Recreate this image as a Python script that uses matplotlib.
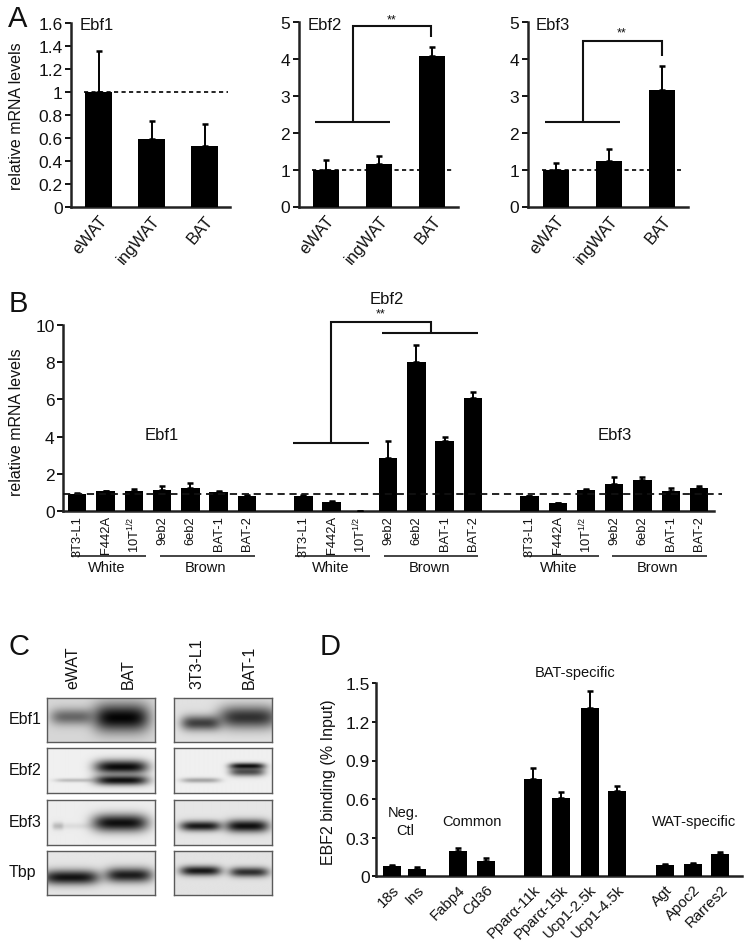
import numpy as np
import matplotlib
matplotlib.use("Agg")
import matplotlib.pyplot as plt
from matplotlib import font_manager as fm

W, H = 751, 945
SANS = 'Liberation Sans'
avail = {f.name for f in fm.fontManager.ttflist}
NARROW = 'Liberation Sans Narrow' if 'Liberation Sans Narrow' in avail else SANS
plt.rcParams['font.family'] = [SANS, 'DejaVu Sans']
plt.rcParams['mathtext.fontset'] = 'custom'
plt.rcParams['mathtext.rm'] = SANS
plt.rcParams['mathtext.default'] = 'regular'

# ---------- data ----------
tissues = ['eWAT', 'ingWAT', 'BAT']
a_ebf1 = [1.0, 0.59, 0.53]
a_ebf1_top = [1.36, 0.75, 0.72]
a_ebf2 = [1.0, 1.14, 4.07]
a_ebf2_top = [1.25, 1.38, 4.32]
a_ebf3 = [1.0, 1.22, 3.15]
a_ebf3_top = [1.19, 1.57, 3.82]
ebf1_ticks = [0, 0.2, 0.4, 0.6, 0.8, 1, 1.2, 1.4, 1.6]
ebf1_ticklabels = ['0', '0.2', '0.4', '0.6', '0.8', '1', '1.2', '1.4', '1.6']
five_ticks = [0, 1, 2, 3, 4, 5]

cells = ['3T3-L1', 'F442A', r'10T$^{1/2}$', '9eb2', '6eb2', 'BAT-1', 'BAT-2']
b_ebf1 = [0.9, 1.1, 1.1, 1.15, 1.25, 1.0, 0.8]
b_ebf1_top = [0.95, 1.1, 1.2, 1.35, 1.5, 1.05, 0.85]
b_ebf2 = [0.8, 0.5, 0.0, 2.85, 8.0, 3.75, 6.05]
b_ebf2_top = [0.85, 0.55, 0.0, 3.75, 8.9, 4.0, 6.4]
b_ebf3 = [0.8, 0.45, 1.15, 1.45, 1.65, 1.1, 1.25]
b_ebf3_top = [0.8, 0.45, 1.2, 1.85, 1.85, 1.25, 1.35]
b_ticks = [0, 2, 4, 6, 8, 10]

d_sites = ['18s', 'Ins', 'Fabp4', 'Cd36', 'Pparα-11k', 'Pparα-15k', 'Ucp1-2.5k',
           'Ucp1-4.5k', 'Agt', 'Apoc2', 'Rarres2']
d_vals = [0.08, 0.055, 0.195, 0.12, 0.755, 0.605, 1.31, 0.665, 0.09, 0.095, 0.17]
d_tops = [0.09, 0.07, 0.22, 0.145, 0.84, 0.655, 1.44, 0.70, 0.095, 0.105, 0.19]
d_ticks = [0, 0.3, 0.6, 0.9, 1.2, 1.5]
d_ticklabels = ['0', '0.3', '0.6', '0.9', '1.2', '1.5']
d_slots = [0, 0.9, 2.37, 3.37, 5.1, 6.1, 7.13, 8.12, 9.84, 10.86, 11.86]

blot_rows = ['Ebf1', 'Ebf2', 'Ebf3', 'Tbp']
# blot bands: background, then (x centre, x half width, y centre, y sigma, darkness)
blots_left = [
    (0.84, [(0.23, 0.20, 0.44, 0.13, 0.52), (0.69, 0.26, 0.46, 0.22, 0.98)]),
    (0.94, [(0.25, 0.18, 0.72, 0.03, 0.22), (0.69, 0.25, 0.42, 0.11, 0.96), (0.69, 0.25, 0.72, 0.08, 0.94)]),
    (0.93, [(0.10, 0.05, 0.58, 0.06, 0.18), (0.25, 0.20, 0.58, 0.05, 0.07), (0.68, 0.26, 0.51, 0.14, 0.94)]),
    (0.90, [(0.22, 0.27, 0.60, 0.12, 0.92), (0.76, 0.22, 0.55, 0.12, 0.88)]),
]
blots_right = [
    (0.88, [(0.27, 0.20, 0.58, 0.12, 0.72), (0.75, 0.30, 0.45, 0.18, 0.78)]),
    (0.94, [(0.27, 0.20, 0.72, 0.04, 0.32), (0.74, 0.18, 0.40, 0.05, 0.94), (0.74, 0.18, 0.53, 0.07, 0.68)]),
    (0.90, [(0.27, 0.21, 0.58, 0.08, 0.90), (0.74, 0.22, 0.58, 0.10, 0.94)]),
    (0.89, [(0.27, 0.21, 0.45, 0.08, 0.90), (0.76, 0.20, 0.48, 0.08, 0.80)]),
]

fig = plt.figure(figsize=(W / 100, H / 100), dpi=100, facecolor='white')


def axpx(l, t, r, b, **kw):
    return fig.add_axes([l / W, 1 - b / H, (r - l) / W, (b - t) / H], **kw)


# full-figure overlay in pixel coordinates for annotations
ov = fig.add_axes([0, 0, 1, 1], zorder=10)
ov.set_xlim(0, W)
ov.set_ylim(H, 0)
ov.axis('off')
ov.patch.set_alpha(0)


def hv(xs, ys, lw=1.5, color='#111111'):
    ov.plot(xs, ys, color=color, lw=lw, solid_capstyle='butt', solid_joinstyle='miter')


def label(x, y, s, size=10, family=SANS, **kw):
    kw.setdefault('ha', 'center')
    kw.setdefault('va', 'center')
    ov.text(x, y, s, fontsize=size, family=[family, 'DejaVu Sans'], color='#111111', **kw)


def style(ax, lw=1.8):
    for s in ('top', 'right'):
        ax.spines[s].set_visible(False)
    for s in ('left', 'bottom'):
        ax.spines[s].set_linewidth(lw)
        ax.spines[s].set_color('#222222')
    ax.patch.set_alpha(0)


def bars(ax, x, v, top, width, capsize=2.2):
    v = np.array(v)
    top = np.array(top)
    ax.bar(x, v, width=width, color='black', zorder=3)
    ax.errorbar(x, v, yerr=[np.zeros_like(v), top - v], fmt='none', ecolor='black',
                elinewidth=1.4, capsize=capsize, capthick=1.8, zorder=3)


# ---------- panel A ----------
panels = [
    (71, 230, 24, 208, 98.5, 1.6, a_ebf1, a_ebf1_top, ebf1_ticks, ebf1_ticklabels, 228),
    (298.5, 458, 23, 207.5, 326, 5, a_ebf2, a_ebf2_top, five_ticks, [str(t) for t in five_ticks], 454),
    (527.5, 688, 23, 207.5, 556, 5, a_ebf3, a_ebf3_top, five_ticks, [str(t) for t in five_ticks], 681),
]
for l, r, t, b, c0, ymax, v, top, ticks, tl, dash_end in panels:
    ax = axpx(l, t, r, b)
    step = 53
    ax.set_xlim((l - c0) / step, (r - c0) / step)
    ax.set_ylim(0, ymax)
    x = np.arange(3)
    bars(ax, x, v, top, 0.5)
    ax.plot([-0.27, (dash_end - c0) / step], [1, 1], color='black', lw=1.2,
            dashes=(2.5, 2), zorder=4, clip_on=False)
    style(ax)
    ax.set_yticks(ticks)
    ax.set_yticklabels(tl, fontsize=12.5, family=[NARROW, SANS], color='#111111')
    ax.tick_params(axis='y', length=4, width=1.3, pad=2)
    ax.set_xticks(x)
    ax.set_xticklabels(tissues, rotation=50, ha='right', va='top', rotation_mode='anchor',
                       fontsize=12, color='#111111')
    ax.tick_params(axis='x', length=0, pad=4)

label(17, 116, 'relative mRNA levels', size=11.5, rotation=90)
label(80, 25, 'Ebf1', size=12, family=NARROW, ha='left')
label(308, 25, 'Ebf2', size=12, family=NARROW, ha='left')
label(536, 25, 'Ebf3', size=12, family=NARROW, ha='left')
hv([315, 390], [123, 123])
hv([353, 353, 431, 431], [123, 27, 27, 38])
label(392, 20, '**', size=9)
hv([545, 620], [123, 123])
hv([582.6, 582.6, 662, 662], [123, 42, 42, 57])
label(622, 33, '**', size=9)

# ---------- panel B ----------
axb = axpx(63, 326, 714, 512)
u = 28.26
c0 = 77.3
axb.set_xlim((63 - c0) / u, (714 - c0) / u)
axb.set_ylim(0, 10)
x_all, tick_all = [], []
for off, v, top in [(0, b_ebf1, b_ebf1_top), (8, b_ebf2, b_ebf2_top), (16, b_ebf3, b_ebf3_top)]:
    x = np.arange(7) + off
    bars(axb, x, v, top, 0.65, capsize=2.0)
    x_all += list(x)
    tick_all += cells
axb.plot([(63 - c0) / u, (722 - c0) / u], [0.93, 0.93], color='#111111', lw=1.3,
         dashes=(4, 2.6), zorder=4, clip_on=False)
style(axb)
axb.set_yticks(b_ticks)
axb.set_yticklabels([str(t) for t in b_ticks], fontsize=12.5, family=[NARROW, SANS], color='#111111')
axb.tick_params(axis='y', length=4, width=1.3, pad=2)
axb.set_xticks(x_all)
axb.set_xticklabels(tick_all, rotation=90, fontsize=9.3, ha='center', va='top', color='#111111')
axb.tick_params(axis='x', length=0, pad=3)

label(17, 422, 'relative mRNA levels', size=11.5, rotation=90)
label(162, 436, 'Ebf1', size=12, family=NARROW)
label(387, 299, 'Ebf2', size=12, family=NARROW)
label(615, 436, 'Ebf3', size=12, family=NARROW)
label(381, 314, '**', size=9)
hv([293, 369], [443.5, 443.5])
hv([331, 331, 431, 431], [443.5, 322.7, 322.7, 334])
hv([382, 478], [334, 334])
under = [(71, 146, 107), (160, 255, 205), (295, 370, 331), (383.5, 478, 429.5),
         (524, 599, 559), (612, 707, 657.5)]
for i, (a, b_, c) in enumerate(under):
    hv([a, b_], [557, 557], lw=1.1)
    label(c, 568.5, 'White' if i % 2 == 0 else 'Brown', size=10.5)


# ---------- panel C ----------
def blot(l, t, r, b, spec):
    ax = axpx(l, t, r, b)
    bg, bands = spec
    xx, yy = np.meshgrid(np.linspace(0, 1, 220), np.linspace(0, 1, 90))
    img = np.full_like(xx, 1.0)
    for xc, xw, yc, ys, amp in bands:
        g = np.exp(-((xx - xc) / xw) ** 4) * np.exp(-0.5 * ((yy - yc) / ys) ** 2)
        img *= 1 - amp * g
    ax.imshow(bg * img, cmap='gray', vmin=0, vmax=1, aspect='auto', extent=(0, 1, 1, 0),
              interpolation='bilinear')
    ax.set_xticks([])
    ax.set_yticks([])
    for s in ax.spines.values():
        s.set_color('#5a5a5a')
        s.set_linewidth(1.0)


rows_px = [(698.7, 743), (749, 794), (801, 846), (852, 896)]
for (t, b), sl, sr, name in zip(rows_px, blots_left, blots_right, blot_rows):
    blot(47, t, 155, b, sl)
    blot(173.5, t, 272, b, sr)
    label(8.5, (t + b) / 2 - 1, name, size=11.5, ha='left')
for x_, s in [(73, 'eWAT'), (128, 'BAT'), (197, '3T3-L1'), (249, 'BAT-1')]:
    label(x_, 689, s, size=11.5, rotation=90, va='bottom')

# ---------- panel D ----------
axd = axpx(376, 684.3, 742, 877.3)
du = 27.67
d0 = 392.3
axd.set_xlim((376 - d0) / du, (742 - d0) / du)
axd.set_ylim(0, 1.5)
bars(axd, np.array(d_slots), d_vals, d_tops, 0.65, capsize=2.4)
style(axd)
axd.set_yticks(d_ticks)
axd.set_yticklabels(d_ticklabels, fontsize=12.5, color='#111111')
axd.tick_params(axis='y', length=3, width=1.3, pad=1.5)
axd.set_xticks(d_slots)
axd.set_xticklabels(d_sites, rotation=45, ha='right', va='top', rotation_mode='anchor',
                    fontsize=10.8, color='#111111')
axd.tick_params(axis='x', length=0, pad=4)
label(329, 782, 'EBF2 binding (% Input)', size=11.5, rotation=90)
label(575, 673, 'BAT-specific', size=10.5)
label(403, 813, 'Neg.', size=10.5)
label(405, 831, 'Ctl', size=10.5)
label(472, 822, 'Common', size=10.5)
label(694, 822, 'WAT-specific', size=10.5)

# ---------- panel letters ----------
label(18, 19, 'A', size=21)
label(18, 304, 'B', size=21)
label(19, 647, 'C', size=21)
label(330, 647, 'D', size=21)

fig.savefig('out.png', dpi=100, facecolor='white')
